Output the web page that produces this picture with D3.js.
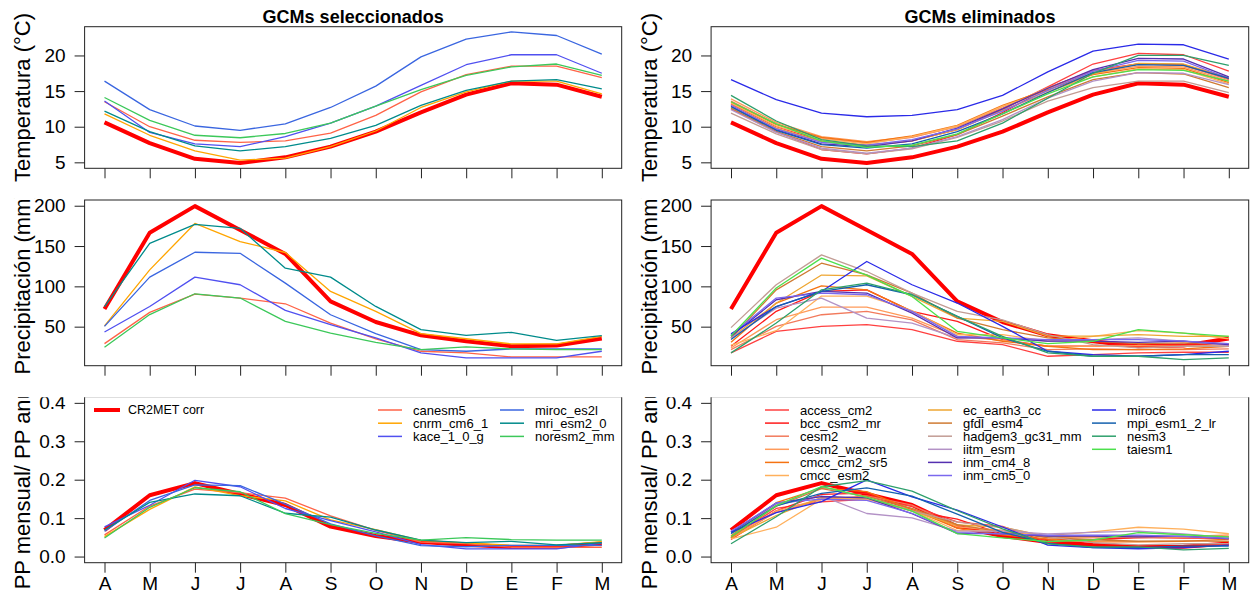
<!DOCTYPE html>
<html>
<head>
<meta charset="utf-8">
<script src="https://cdn.jsdelivr.net/npm/d3@7"></script>
<style>
body{margin:0;background:#fff;}
text{font-family:"Liberation Sans",Arial,sans-serif;fill:#000;}
</style>
</head>
<body>
<div class="chart"></div>
<script>
var months=["A","M","J","J","A","S","O","N","D","E","F","M"];

var obsName="CR2MET corr";
var obsTemp=[10.6,7.7,5.5,4.9,5.7,7.2,9.3,12.0,14.5,16.1,15.9,14.2];
var obsPrec=[71.8,166.6,199.5,170,140.2,81.3,55.8,39.3,31.9,25.7,26.5,35.2];

var selNames=["canesm5","cnrm_cm6_1","kace_1_0_g","miroc_es2l","mri_esm2_0","noresm2_mm"];
var selColors=["#FF6347","#FFA500","#5050F0","#3A66E0","#008B8B","#3CC85A"];
var selTemp=[
  [13.5,10.0,8.1,7.8,8.0,9.1,11.6,14.9,17.3,18.5,18.5,16.9],
  [11.8,8.8,6.6,5.3,5.6,7.2,9.4,12.7,14.9,16.4,16.4,14.6],
  [13.6,9.2,7.6,7.2,8.6,10.5,12.9,15.8,18.7,20.1,20.1,17.5],
  [16.4,12.4,10.1,9.5,10.4,12.7,15.7,19.8,22.3,23.3,22.8,20.2],
  [12.2,9.3,7.3,6.6,7.2,8.35,10.2,13.0,15.1,16.4,16.6,15.3],
  [14.1,10.9,8.8,8.45,9.05,10.5,12.9,15.2,17.2,18.4,18.8,17.2]
];
var selPrec=[
  [29,67.7,90.4,85.5,78.4,54.5,35,19.5,17.5,12.5,12.5,12.5],
  [51,120.5,178,155.5,142,93.7,69,41.3,35,28.6,28.6,38],
  [43.4,75,111.4,102,70.2,52.5,36,17.5,11.3,11.3,11.3,19.5],
  [50.4,111.4,142.3,141,104,64.8,41.3,21.6,19.5,22.4,22.4,22.4],
  [75,153.4,177,172,122.5,111.4,75.1,46.3,39.3,43,33,39],
  [24.4,65,90.8,85.5,56.6,42,30.6,21.6,25,22.4,21.6,21.6]
];

var elimNames=["access_cm2","bcc_csm2_mr","cesm2","cesm2_waccm","cmcc_cm2_sr5","cmcc_esm2",
  "ec_earth3_cc","gfdl_esm4","hadgem3_gc31_mm","iitm_esm","inm_cm4_8","inm_cm5_0",
  "miroc6","mpi_esm1_2_lr","nesm3","taiesm1"];
var elimColors=["#FF4040","#FF1A1A","#F27A5C","#FF9A5A","#F57312","#FFB05C",
  "#EEA632","#CF7A32","#C29C94","#B392C6","#5530B0","#7B68EE",
  "#2A2AE8","#1460AE","#2EA06C","#4CE04C"];
var elimTemp=[
  [13.2,10.0,8.0,7.4,8.0,9.6,12.4,15.6,18.8,20.3,20.1,17.8],
  [12.5,9.3,6.8,6.2,7.0,8.9,12.0,15.4,17.9,18.8,18.7,16.7],
  [13.6,10.4,8.4,7.7,8.5,10.0,12.6,15.5,17.8,18.8,18.6,16.6],
  [13.9,10.6,8.6,7.9,8.6,10.0,12.8,15.4,17.5,18.5,18.4,16.4],
  [13.4,10.3,8.5,7.8,8.7,10.2,13.0,15.2,17.3,18.3,18.2,16.2],
  [13.3,10.1,8.3,7.6,8.6,10.1,12.9,15.0,17.0,18.1,18.0,16.0],
  [13.0,9.8,7.9,7.3,8.0,9.6,12.3,14.8,17.4,18.9,18.8,16.9],
  [12.6,9.3,7.2,6.6,7.3,8.9,11.5,14.2,16.6,17.6,17.4,15.5],
  [11.9,9.0,6.8,6.2,6.9,8.5,10.8,13.6,15.5,16.4,16.4,14.8],
  [12.4,9.2,7.0,6.3,7.0,8.6,11.0,14.0,16.4,17.6,17.5,15.9],
  [12.9,9.6,7.6,7.2,8.0,9.8,12.5,15.4,18.0,19.6,19.5,17.0],
  [13.0,9.7,7.8,7.4,8.2,9.7,12.2,15.1,17.8,19.3,19.2,16.8],
  [16.6,13.8,11.9,11.4,11.6,12.4,14.4,17.7,20.6,21.6,21.5,19.5],
  [12.8,9.5,7.5,7.0,7.6,9.3,11.8,14.8,17.6,18.7,18.6,16.8],
  [14.4,10.8,8.2,7.3,7.2,8.0,10.5,14.0,17.5,20.0,20.0,18.6],
  [13.5,10.4,8.0,7.1,7.4,9.0,11.8,14.6,17.0,18.0,17.9,16.4]
];
var elimPrec=[
  [17.5,44.2,50.4,52.5,46.3,31.9,27.7,13.3,15.4,17.5,18.3,18.3],
  [25.7,69,93.7,95.7,69,56.6,34,25.7,25.7,29,27.7,27.7],
  [21.6,50.4,64.8,69,58.5,34,29.8,21.6,22.4,21.6,21.6,22.4],
  [23.6,58.6,74.2,74.2,60.7,38,33,25.7,25.7,26.5,25.7,27.7],
  [30.6,79.3,100.7,95.7,69,42,31.9,25.7,21.6,21.6,22.4,25.7],
  [27,45,88,88,70,40,40,32,38,45,42,35],
  [36,79,114,113,87.5,60.7,56.6,38.3,38.3,40.1,38,38],
  [36,95.7,128.7,114.3,91.6,60.7,46.3,36,31.9,29,29.8,29],
  [48.8,102,139,118.4,91.6,69,58.5,40,27.7,23.6,25.7,25.7],
  [36,73,85.4,60.7,54.5,36,36,31.9,34,36,32,26.5],
  [38,83.4,93.7,91.6,66.8,36,36,32,32,30.6,32,27.7],
  [40,85.4,91.6,89.6,69,38,36,34,34,34,32,29],
  [41.3,75,93.7,130.8,102,79.3,50.4,19.5,15.4,13.3,15.4,19.5],
  [34,75,93.7,102,89.6,62.8,36,19.5,13.3,13.3,15.4,15.4],
  [17.5,54.5,95.7,104,89.6,62.8,38,17.5,13.3,13.3,9.2,11.3],
  [38.5,98,135,114,87.5,44.2,36,29,31.9,46.3,42,38]
];

var tempTicks=[5,10,15,20];
var precTicks=[50,100,150,200];
var ratioTicks=[0,0.1,0.2,0.3,0.4];

// monthly share of annual precipitation
function ratio(p){ var s=d3.sum(p); return p.map(function(v){return v/s;}); }

var svg=d3.select(".chart").append("svg")
  .attr("width",1253)
  .attr("height",596);

var colW=626.5, rowH=596/3;
var cols=[
  {A:104.5, M:601.8, title:"GCMs seleccionados"},
  {A:731, M:1228.8, title:"GCMs eliminados"}
];
var rows=[
  {top:26.7, bottom:168.3, label:"Temperatura (°C)", ticks:tempTicks, fmt:d3.format("d")},
  {top:200, bottom:365.7, label:"Precipitación (mm)", ticks:precTicks, fmt:d3.format("d")},
  {top:396.7, bottom:562.7, label:"PP mensual/ PP anual", ticks:ratioTicks, fmt:d3.format(".1f")}
];

var allTemp=d3.merge([obsTemp].concat(selTemp,elimTemp));
var allPrec=d3.merge([obsPrec].concat(selPrec,elimPrec));
var lims=[d3.extent(allTemp), d3.extent(allPrec), [0,0.4]];

var defs=svg.append("defs");

function panel(ci, ri, obs, models, colors){
  var c=cols[ci], r=rows[ri];
  var x=d3.scaleLinear().domain([1,12]).range([c.A,c.M]);
  var lim=lims[ri];
  var pad=(lim[1]-lim[0])*0.04;
  var y=d3.scaleLinear().domain([lim[0]-pad,lim[1]+pad]).range([r.bottom,r.top]);
  var x0=x(1-0.44), x1=x(12+0.44);

  var id="clip"+ci+ri;
  defs.append("clipPath").attr("id",id).append("rect")
    .attr("x",ci*colW).attr("y",ri*rowH).attr("width",colW).attr("height",rowH);
  var g=svg.append("g").attr("clip-path","url(#"+id+")");

  var line=d3.line()
    .x(function(d,i){return x(i+1);})
    .y(function(d){return y(d);});

  g.append("path")
    .attr("d",line(obs))
    .attr("fill","none")
    .attr("stroke","#FF0000")
    .attr("stroke-width",4)
    .attr("stroke-linejoin","round");

  g.selectAll(".model")
    .data(models)
    .enter()
    .append("path")
    .attr("class","model")
    .attr("d",line)
    .attr("fill","none")
    .attr("stroke",function(d,i){return colors[i];})
    .attr("stroke-width",1.3)
    .attr("stroke-linejoin","round");

  g.append("rect")
    .attr("x",x0).attr("y",r.top)
    .attr("width",x1-x0).attr("height",r.bottom-r.top)
    .attr("fill","none").attr("stroke","#222").attr("stroke-width",1);

  var ya=g.append("g")
    .attr("transform","translate("+x0+",0)")
    .call(d3.axisLeft(y).tickValues(r.ticks).tickSize(10).tickPadding(9).tickFormat(r.fmt));
  ya.select(".domain").remove();
  ya.selectAll("text").attr("font-size","19px").attr("font-family","Liberation Sans, Arial, sans-serif").attr("fill","#000");
  ya.selectAll("line").attr("stroke","#222");

  var xa=g.append("g")
    .attr("transform","translate(0,"+r.bottom+")")
    .call(d3.axisBottom(x).tickValues(d3.range(1,13)).tickSize(10).tickPadding(4)
      .tickFormat(function(i){return ri==2 ? months[i-1] : "";}));
  xa.select(".domain").remove();
  xa.selectAll("text").attr("font-size","19px").attr("font-family","Liberation Sans, Arial, sans-serif").attr("fill","#000");
  xa.selectAll("line").attr("stroke","#222");

  g.append("text")
    .attr("transform","translate("+(ci*colW+30)+","+((r.top+r.bottom)/2)+") rotate(-90)")
    .attr("text-anchor","middle")
    .attr("font-size","22px")
    .text(r.label);

  if(ri==0){
    g.append("text")
      .attr("x",(x0+x1)/2)
      .attr("y",23)
      .attr("text-anchor","middle")
      .attr("font-size","18px")
      .attr("font-weight","bold")
      .text(c.title);
  }
}

panel(0,0,obsTemp,selTemp,selColors);
panel(0,1,obsPrec,selPrec,selColors);
panel(0,2,ratio(obsPrec),selPrec.map(ratio),selColors);
panel(1,0,obsTemp,elimTemp,elimColors);
panel(1,1,obsPrec,elimPrec,elimColors);
panel(1,2,ratio(obsPrec),elimPrec.map(ratio),elimColors);

// legends
function legend(names, colors, xs, y0, dy, nrow, fs){
  var items=svg.append("g").selectAll("g")
    .data(names)
    .enter()
    .append("g")
    .attr("transform",function(d,i){
      return "translate("+xs[Math.floor(i/nrow)]+","+(y0+(i%nrow)*dy)+")";
    });
  items.append("line")
    .attr("x1",0).attr("x2",24)
    .attr("stroke",function(d,i){return colors[i];})
    .attr("stroke-width",1.5);
  items.append("text")
    .attr("x",35)
    .attr("dy","0.35em")
    .attr("font-size",fs)
    .text(function(d){return d;});
}

var obsLeg=svg.append("g").attr("transform","translate(94,410)");
obsLeg.append("line").attr("x1",0).attr("x2",26)
  .attr("stroke","#FF0000").attr("stroke-width",4);
obsLeg.append("text").attr("x",34).attr("dy","0.35em")
  .attr("font-size","12.5px").text(obsName);

legend(selNames, selColors, [378,500], 410, 13.2, 3, "13px");
legend(elimNames, elimColors, [765,928,1092], 410, 13.1, 6, "13px");
</script>
</body>
</html>
